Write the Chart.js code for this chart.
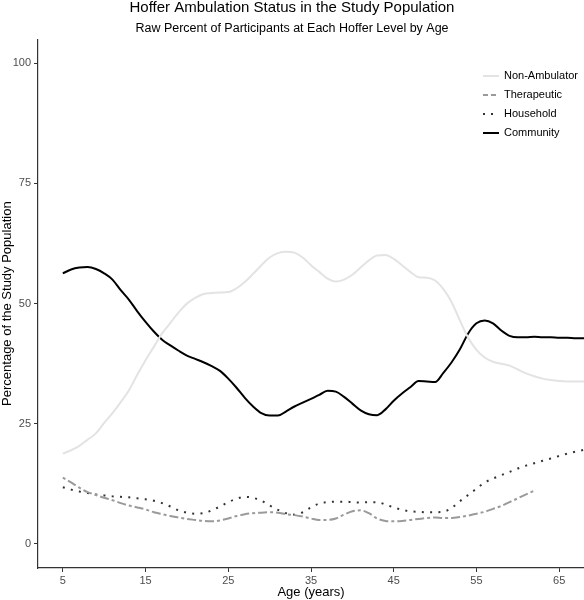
<!DOCTYPE html>
<html>
<head>
<meta charset="utf-8">
<script src="https://cdn.jsdelivr.net/npm/chart.js@4"></script>
<style>
  html, body { margin: 0; padding: 0; background: #fff; }
  #wrap { width: 584px; height: 600px; }
</style>
</head>
<body>
<div id="wrap"><canvas id="chart" width="584" height="600"></canvas></div>
<script>
// Ages (years) shared by all series
const ages = [5, 6, 7, 8, 9, 10, 11, 12, 13, 14, 15, 16, 17, 18, 19, 20, 21, 22, 23, 24,
    25, 26, 27, 28, 29, 30, 31, 32, 33, 34, 35, 36, 37, 38, 39, 40, 41, 42, 43, 44,
    45, 46, 47, 48, 49, 50, 51, 52, 53, 54, 55, 56, 57, 58, 59, 60, 61, 62, 63, 64,
    65, 66, 67, 68];

const nonAmbulator = [18.8, 19.5, 20.4, 21.7, 23.0, 25.2, 27.2, 29.5, 32.0, 35.2,
    38.2, 41.0, 43.8, 46.0, 48.2, 50.0, 51.2, 52.0, 52.2, 52.3,
    52.4, 53.2, 54.5, 56.2, 58.0, 59.6, 60.5, 60.8, 60.6, 59.6,
    58.0, 56.6, 55.2, 54.6, 55.0, 56.0, 57.5, 59.0, 60.0, 60.1,
    59.3, 58.0, 56.6, 55.5, 55.4, 54.8, 53.0, 50.3, 46.5, 42.9,
    40.4, 38.8, 37.9, 37.5, 37.1, 36.3, 35.5, 34.9, 34.4, 34.1,
    33.9, 33.8, 33.8, 33.8];

const therapeutic = [13.8, 12.8, 11.7, 10.8, 10.2, 9.6, 9.1, 8.5, 8.0, 7.6,
    7.2, 6.6, 6.2, 5.8, 5.5, 5.2, 5.0, 4.8, 4.7, 4.9,
    5.3, 5.8, 6.2, 6.4, 6.5, 6.6, 6.5, 6.2, 6.0, 5.7,
    5.3, 5.0, 5.0, 5.3, 6.1, 6.8, 7.0, 6.4, 5.3, 4.8,
    4.7, 4.8, 5.0, 5.2, 5.4, 5.5, 5.4, 5.4, 5.6, 5.9,
    6.3, 6.7, 7.3, 7.9, 8.7, 9.5, 10.3, 11.1, null, null,
    null, null, null, null];

const household = [11.8, 11.3, 10.9, 10.6, 10.3, 10.1, 9.9, 9.8, 9.7, 9.5,
    9.3, 9.0, 8.5, 7.8, 7.0, 6.5, 6.3, 6.4, 7.0, 7.8,
    8.7, 9.4, 9.8, 9.6, 9.0, 8.0, 7.1, 6.4, 6.1, 6.6,
    7.6, 8.4, 8.7, 8.8, 8.8, 8.7, 8.6, 8.7, 8.7, 8.2,
    7.6, 7.1, 6.8, 6.7, 6.6, 6.6, 6.7, 7.5, 8.9, 10.2,
    11.5, 12.8, 13.6, 14.3, 15.0, 15.7, 16.3, 16.8, 17.3, 17.8,
    18.3, 18.8, 19.2, 19.6];

const community = [56.3, 57.1, 57.5, 57.6, 57.2, 56.3, 55.0, 52.8, 50.8, 48.4,
    46.2, 44.2, 42.5, 41.3, 40.2, 39.2, 38.5, 37.8, 37.0, 36.0,
    34.4, 32.5, 30.4, 28.6, 27.2, 26.7, 26.7, 27.6, 28.6, 29.4,
    30.2, 31.0, 31.9, 31.7, 30.6, 29.2, 27.8, 27.0, 26.8, 28.0,
    29.8, 31.3, 32.6, 33.9, 33.8, 33.7, 35.6, 37.8, 40.5, 43.8,
    45.9, 46.5, 45.9, 44.4, 43.3, 43.0, 43.0, 43.1, 43.0, 43.0,
    42.9, 42.9, 42.8, 42.8];

const xTicks = [5, 15, 25, 35, 45, 55, 65];
const yTicks = [0, 25, 50, 75, 100];

const toPoints = values => ages.map((a, i) => ({ x: a, y: values[i] }));

// legend drawn inside the plot, top right
const insideLegend = {
    id: 'insideLegend',
    afterDraw(chart) {
        const ctx = chart.ctx;
        const x0 = 483, x1 = 499, textX = 504;
        let y = 76;
        ctx.save();
        chart.data.datasets.forEach(ds => {
            ctx.beginPath();
            ctx.strokeStyle = ds.borderColor;
            ctx.lineWidth = ds.borderWidth;
            ctx.setLineDash(ds.legendDash || ds.borderDash || []);
            ctx.moveTo(x0, y);
            ctx.lineTo(x1, y);
            ctx.stroke();
            ctx.setLineDash([]);
            ctx.fillStyle = '#000';
            ctx.font = '11px "Liberation Sans", Arial, sans-serif';
            ctx.textBaseline = 'middle';
            ctx.fillText(ds.label, textX, y);
            y += 19;
        });
        ctx.restore();
    }
};

new Chart(document.getElementById('chart'), {
    type: 'line',
    data: {
        datasets: [{
            label: 'Non-Ambulator',
            data: toPoints(nonAmbulator),
            borderColor: '#e3e3e3',
            borderWidth: 2
        }, {
            label: 'Therapeutic',
            data: toPoints(therapeutic),
            borderColor: '#9a9a9a',
            borderWidth: 2,
            borderDash: [3, 3, 9, 3],
            legendDash: [5, 3]
        }, {
            label: 'Household',
            data: toPoints(household),
            borderColor: '#333333',
            borderWidth: 2,
            borderDash: [2, 6.3],
            legendDash: [2, 6]
        }, {
            label: 'Community',
            data: toPoints(community),
            borderColor: '#000000',
            borderWidth: 2
        }]
    },
    options: {
        responsive: false,
        animation: false,
        spanGaps: false,
        layout: { padding: { left: 0, right: 0, top: 0, bottom: 0 } },
        elements: {
            point: { radius: 0 },
            line: { tension: 0.4, cubicInterpolationMode: 'monotone', fill: false }
        },
        plugins: {
            legend: { display: false },
            tooltip: { enabled: false },
            title: {
                display: true,
                text: 'Hoffer Ambulation Status in the Study Population',
                color: '#000',
                font: { family: '"Liberation Sans", Arial, sans-serif', size: 15, weight: 'normal', lineHeight: 1.1 },
                padding: { top: 0, bottom: 5 }
            },
            subtitle: {
                display: true,
                text: 'Raw Percent of Participants at Each Hoffer Level by Age',
                color: '#000',
                font: { family: '"Liberation Sans", Arial, sans-serif', size: 12.5, lineHeight: 1.1 },
                padding: { top: 0, bottom: 4 }
            }
        },
        scales: {
            x: {
                type: 'linear',
                min: 2,
                max: 68,
                afterFit: scale => { scale.height = 32; },
                afterBuildTicks: scale => { scale.ticks = xTicks.map(v => ({ value: v })); },
                grid: { drawOnChartArea: false, drawTicks: true, tickLength: 4, color: '#333' },
                border: { color: '#333', width: 1.2 },
                ticks: {
                    color: '#4d4d4d',
                    padding: 2,
                    maxRotation: 0,
                    font: { family: '"Liberation Sans", Arial, sans-serif', size: 11 }
                },
                title: {
                    display: true,
                    text: 'Age (years)',
                    color: '#000',
                    padding: { top: 0, bottom: 0 },
                    font: { family: '"Liberation Sans", Arial, sans-serif', size: 13 }
                }
            },
            y: {
                min: -5,
                max: 105,
                afterFit: scale => { scale.width = 38; },
                afterBuildTicks: scale => { scale.ticks = yTicks.map(v => ({ value: v })); },
                grid: { drawOnChartArea: false, drawTicks: true, tickLength: 4, color: '#333' },
                border: { color: '#333', width: 1.2 },
                ticks: {
                    color: '#4d4d4d',
                    padding: 3,
                    font: { family: '"Liberation Sans", Arial, sans-serif', size: 11 }
                },
                title: {
                    display: true,
                    text: 'Percentage of the Study Population',
                    color: '#000',
                    padding: { top: 0, bottom: 0 },
                    font: { family: '"Liberation Sans", Arial, sans-serif', size: 13 }
                }
            }
        }
    },
    plugins: [insideLegend]
});
</script>
</body>
</html>
